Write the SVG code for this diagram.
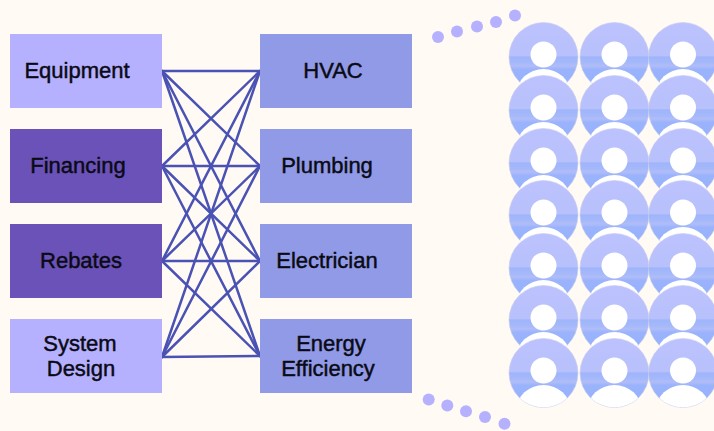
<svg xmlns="http://www.w3.org/2000/svg" xmlns:xlink="http://www.w3.org/1999/xlink" width="714" height="431" viewBox="0 0 714 431">
<style>
text{font-family:"Liberation Sans",Arial,sans-serif;font-size:22px;fill:#0a0a14;stroke:#0a0a14;stroke-width:.45px;text-anchor:middle}
.a{fill:#b6b1fe}.b{fill:#6a52b8}.c{fill:#919ae6}
.d{fill:#b6b1fe}
#connectors line{stroke:#4a52b4;stroke-width:2.5;stroke-linecap:round}
</style>
<defs>
<linearGradient id="g" x1="0" y1="0" x2="0" y2="1">
<stop offset="0" stop-color="#bcc2ff"/><stop offset=".48" stop-color="#b8c1fb"/><stop offset=".5" stop-color="#9fb5fb"/><stop offset=".58" stop-color="#a5b8fa"/><stop offset=".63" stop-color="#b0bdf8"/><stop offset=".68" stop-color="#9ab3fc"/><stop offset="1" stop-color="#94b0ff"/>
</linearGradient>
<clipPath id="cp"><circle r="34.5"/></clipPath>
<g id="p">
<circle r="34.5" fill="url(#g)" stroke="#c9cde8" stroke-width=".6"/>
<circle cy="-2.5" r="13" fill="#fff"/>
<ellipse cy="37" rx="27" ry="25" fill="#fff" clip-path="url(#cp)"/>
</g>
</defs>
<rect width="714" height="431" fill="#fffaf4"/>
<g id="connectors">
<line x1="162" y1="71" x2="260" y2="71"/><line x1="162" y1="71" x2="260" y2="166"/><line x1="162" y1="71" x2="260" y2="261"/><line x1="162" y1="71" x2="260" y2="356"/>
<line x1="162" y1="166" x2="260" y2="71"/><line x1="162" y1="166" x2="260" y2="166"/><line x1="162" y1="166" x2="260" y2="261"/><line x1="162" y1="166" x2="260" y2="356"/>
<line x1="162" y1="261" x2="260" y2="71"/><line x1="162" y1="261" x2="260" y2="166"/><line x1="162" y1="261" x2="260" y2="261"/><line x1="162" y1="261" x2="260" y2="356"/>
<line x1="162" y1="357" x2="260" y2="71"/><line x1="162" y1="357" x2="260" y2="166"/><line x1="162" y1="357" x2="260" y2="261"/><line x1="162" y1="357" x2="260" y2="356"/>
</g>
<g id="equipment"><rect class="a" x="10" y="34" width="152" height="74"/><text x="77" y="78">Equipment</text></g>
<g id="financing"><rect class="b" x="10" y="129" width="152" height="74"/><text x="78" y="173">Financing</text></g>
<g id="rebates"><rect class="b" x="10" y="224" width="152" height="74"/><text x="81" y="268">Rebates</text></g>
<g id="system-design"><rect class="a" x="10" y="319" width="152" height="74"/><text x="80" y="351">System</text><text x="81" y="376">Design</text></g>
<g id="hvac"><rect class="c" x="260" y="34" width="152" height="74"/><text x="333" y="78">HVAC</text></g>
<g id="plumbing"><rect class="c" x="260" y="129" width="152" height="74"/><text x="327" y="173">Plumbing</text></g>
<g id="electrician"><rect class="c" x="260" y="224" width="152" height="74"/><text x="327" y="268">Electrician</text></g>
<g id="energy-efficiency"><rect class="c" x="260" y="319" width="152" height="74"/><text x="331" y="351">Energy</text><text x="328" y="376">Efficiency</text></g>
<g id="dots-top"><circle class="d" cx="438" cy="37" r="6"/><circle class="d" cx="457" cy="31.5" r="6"/><circle class="d" cx="477" cy="26.5" r="6"/><circle class="d" cx="496" cy="22" r="6"/><circle class="d" cx="515" cy="15.5" r="6"/></g>
<g id="dots-bottom"><circle class="d" cx="428.7" cy="399.5" r="6"/><circle class="d" cx="447.3" cy="405.5" r="6"/><circle class="d" cx="466" cy="411.3" r="6"/><circle class="d" cx="485" cy="417" r="6"/><circle class="d" cx="504.5" cy="423.7" r="6"/></g>
<g id="people">
<use href="#p" x="543.5" y="57"/><use href="#p" x="614.5" y="57"/><use href="#p" x="683" y="57"/>
<use href="#p" x="543.5" y="110"/><use href="#p" x="614.5" y="110"/><use href="#p" x="683" y="110"/>
<use href="#p" x="543.5" y="163"/><use href="#p" x="614.5" y="163"/><use href="#p" x="683" y="163"/>
<use href="#p" x="543.5" y="215"/><use href="#p" x="614.5" y="215"/><use href="#p" x="683" y="215"/>
<use href="#p" x="543.5" y="268"/><use href="#p" x="614.5" y="268"/><use href="#p" x="683" y="268"/>
<use href="#p" x="543.5" y="320"/><use href="#p" x="614.5" y="320"/><use href="#p" x="683" y="320"/>
<use href="#p" x="543.5" y="373"/><use href="#p" x="614.5" y="373"/><use href="#p" x="683" y="373"/>
</g>
</svg>
